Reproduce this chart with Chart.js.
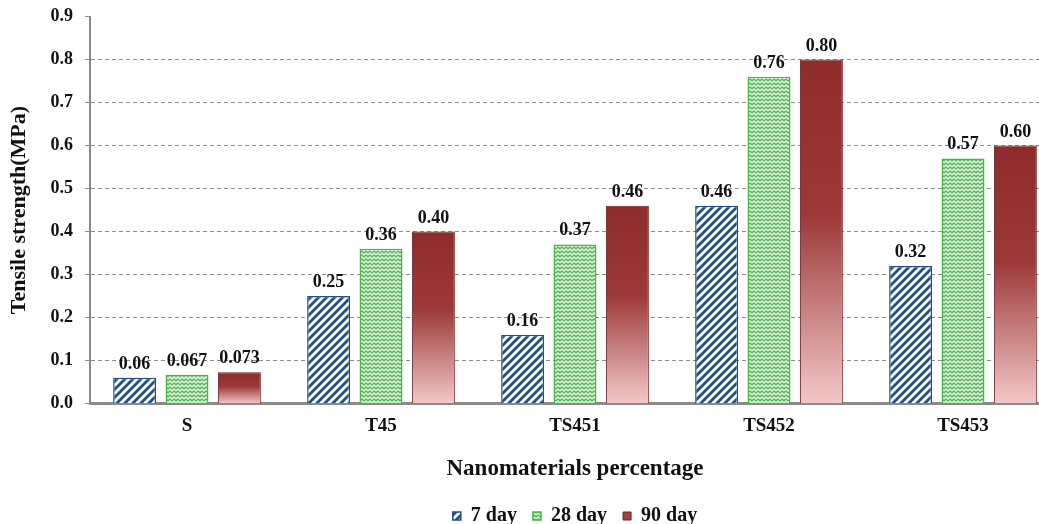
<!DOCTYPE html>
<html>
<head>
<meta charset="utf-8">
<script src="https://cdn.jsdelivr.net/npm/chart.js@4.4.1/dist/chart.umd.min.js"></script>
<style>
  html, body { margin: 0; padding: 0; background: #fff; overflow: hidden; }
  #wrap { width: 1062px; height: 524px; }
</style>
</head>
<body>
<div id="wrap"><canvas id="barChart" width="1062" height="524"></canvas></div>
<script>
  // data
  var categories = ['S', 'T45', 'TS451', 'TS452', 'TS453'];
  var seriesNames = ['7 day', '28 day', '90 day'];
  var day7 = [0.06, 0.25, 0.16, 0.46, 0.32];
  var day28 = [0.067, 0.36, 0.37, 0.76, 0.57];
  var day90 = [0.073, 0.40, 0.46, 0.80, 0.60];
  var labels7 = ['0.06', '0.25', '0.16', '0.46', '0.32'];
  var labels28 = ['0.067', '0.36', '0.37', '0.76', '0.57'];
  var labels90 = ['0.073', '0.40', '0.46', '0.80', '0.60'];
  var yTicks = [0, 0.1, 0.2, 0.3, 0.4, 0.5, 0.6, 0.7, 0.8, 0.9];

  var serif = "'Liberation Serif', 'Times New Roman', serif";

  // blue diagonal hatch
  function makeHatch() {
    var c = document.createElement('canvas');
    c.width = 8; c.height = 8;
    var g = c.getContext('2d');
    g.fillStyle = '#ffffff';
    g.fillRect(0, 0, 8, 8);
    g.strokeStyle = '#1d4f8f';
    g.lineWidth = 2.8;
    g.beginPath();
    g.moveTo(-2, 10); g.lineTo(10, -2);
    g.moveTo(-6, 6); g.lineTo(6, -6);
    g.moveTo(2, 14); g.lineTo(14, 2);
    g.stroke();
    return g.createPattern(c, 'repeat');
  }

  // green weave pattern
  function makeWeave() {
    var c = document.createElement('canvas');
    c.width = 8; c.height = 8;
    var g = c.getContext('2d');
    g.fillStyle = '#55bb55';
    g.fillRect(0, 0, 8, 8);
    g.strokeStyle = '#f2fbf2';
    g.lineWidth = 1.3;
    g.beginPath();
    g.moveTo(0, 3); g.lineTo(2, 1); g.lineTo(4, 3); g.lineTo(6, 1); g.lineTo(8, 3);
    g.moveTo(0, 7); g.lineTo(2, 5); g.lineTo(4, 7); g.lineTo(6, 5); g.lineTo(8, 7);
    g.stroke();
    return g.createPattern(c, 'repeat');
  }

  // red gradient per bar
  function redFill(ctx) {
    var chart = ctx.chart;
    if (ctx.type !== 'data' || !chart.chartArea || !chart.scales.y) return '#a44343';
    var y = chart.scales.y;
    var top = y.getPixelForValue(ctx.raw);
    var bottom = y.getPixelForValue(0);
    var grad = chart.ctx.createLinearGradient(0, top, 0, bottom);
    grad.addColorStop(0, '#8e2c2c');
    grad.addColorStop(0.45, '#9c3838');
    grad.addColorStop(1, '#f3c8c8');
    return grad;
  }

  var valueLabels = [labels7, labels28, labels90];

  // numbers above the bars
  var barLabels = {
    id: 'barLabels',
    afterDatasetsDraw: function (chart) {
      var c = chart.ctx;
      c.save();
      c.font = 'bold 18px ' + serif;
      c.fillStyle = '#111111';
      c.textAlign = 'center';
      c.textBaseline = 'alphabetic';
      chart.data.datasets.forEach(function (ds, i) {
        var meta = chart.getDatasetMeta(i);
        meta.data.forEach(function (bar, j) {
          c.fillText(valueLabels[i][j], bar.x, bar.y - 9);
        });
      });
      c.restore();
    }
  };

  var data = {
    labels: categories,
    datasets: [{
      label: seriesNames[0],
      data: day7,
      backgroundColor: makeHatch(),
      borderColor: '#1d4f8f',
      borderWidth: 1.5
    }, {
      label: seriesNames[1],
      data: day28,
      backgroundColor: makeWeave(),
      borderColor: '#3dbb3d',
      borderWidth: 1.5
    }, {
      label: seriesNames[2],
      data: day90,
      backgroundColor: redFill,
      borderColor: '#6e2222',
      borderWidth: 1
    }]
  };

  var config = {
    type: 'bar',
    data: data,
    plugins: [barLabels],
    options: {
      responsive: false,
      animation: false,
      devicePixelRatio: 1,
      categoryPercentage: 0.81,
      barPercentage: 0.82,
      layout: { padding: { left: 0, right: 2, top: 15, bottom: -12 } },
      plugins: {
        tooltip: { enabled: false },
        legend: {
          position: 'bottom',
          fullSize: false,
          labels: {
            boxWidth: 8,
            boxHeight: 8,
            padding: 16,
            color: '#111111',
            font: { family: serif, size: 20, weight: 'bold' },
            generateLabels: function (chart) {
              var items = Chart.defaults.plugins.legend.labels.generateLabels(chart);
              items[2].fillStyle = '#a44343';
              items[2].strokeStyle = '#6e2222';
              return items;
            }
          }
        }
      },
      scales: {
        x: {
          grid: { display: false, drawTicks: false },
          border: { color: '#8a8a8a', width: 3 },
          ticks: {
            padding: 11,
            color: '#111111',
            font: { family: serif, size: 19, weight: 'bold' }
          },
          title: {
            display: true,
            text: 'Nanomaterials percentage',
            color: '#111111',
            font: { family: serif, size: 23, weight: 'bold' },
            padding: { top: 7, bottom: 7 }
          }
        },
        y: {
          min: 0,
          max: 0.9,
          afterFit: function (scale) { scale.width = 90; },
          afterBuildTicks: function (scale) {
            scale.ticks = yTicks.map(function (v) { return { value: v }; });
          },
          grid: {
            color: function (ctx) {
              return (ctx.tick && (ctx.tick.value === 0 || ctx.tick.value === 0.9)) ? 'rgba(0,0,0,0)' : '#8c8c8c';
            },
            lineWidth: 1,
            tickLength: 5,
            tickBorderDash: [4, 3],
            tickColor: '#8c8c8c'
          },
          border: { color: '#8a8a8a', width: 2, dash: [4, 3] },
          ticks: {
            padding: 12,
            color: '#111111',
            font: { family: serif, size: 18, weight: 'bold', lineHeight: 0.5 },
            callback: function (v) { return Number(v).toFixed(1); }
          },
          title: {
            display: true,
            text: 'Tensile strength(MPa)',
            color: '#111111',
            font: { family: serif, size: 22, weight: 'bold' },
            padding: { top: 6, bottom: 4 }
          }
        }
      }
    }
  };

  var barChart = new Chart(document.getElementById('barChart'), config);
</script>
</body>
</html>
